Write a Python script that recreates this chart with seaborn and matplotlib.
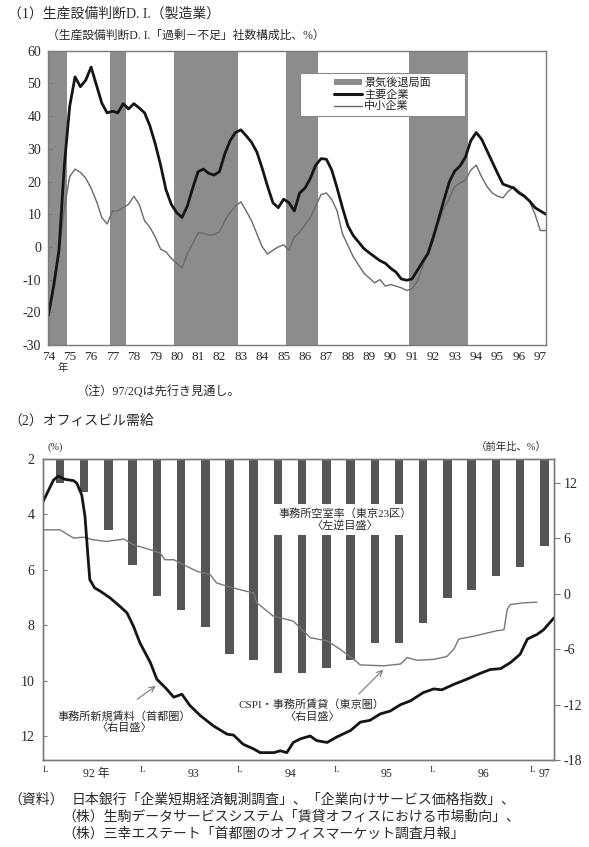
import numpy as np
import pandas as pd
import matplotlib
matplotlib.use("Agg")
import matplotlib.pyplot as plt
import seaborn as sns
from matplotlib.patches import Patch, Rectangle
from matplotlib.lines import Line2D

sns.set_style("white")
plt.rcParams['font.family'] = ['Liberation Serif', 'Noto Sans CJK JP']
plt.rcParams['axes.unicode_minus'] = False

# (1) 生産設備判断D.I. quarterly, 74/1Q - 97/2Q
period = np.arange(1974, 1997.5, 0.25)
major = [-21, -12, -1, 25, 43, 52, 49, 51, 55, 49.5, 44, 41,
         41.5, 41, 43.8, 42.2, 43.8, 42.5, 41, 37, 31.5, 25, 17.5, 13,
         10.5, 9, 12.5, 18, 23, 23.8, 22.5, 22, 23, 28.5, 32.5, 35,
         35.8, 34, 32, 29, 24, 18.5, 13.5, 12, 14.6, 13.5, 11, 16.5,
         18, 21, 25, 27, 26.8, 23.5, 18, 12, 6.5, 3.5, 1.5, -0.5,
         -1.8, -3, -4.2, -5, -6.5, -7.7, -9.8, -10.2, -9.8, -7.2, -4.5, -2,
         3, 8.7, 14.5, 20, 23.2, 24.8, 27.5, 32.5, 35, 33, 29.5, 26,
         22.5, 19.2, 18.6, 18, 16.5, 15.5, 14, 12, 11, 10]
small = [-21, -12, -2, 12, 21.5, 23.8, 22.8, 21, 18, 14, 9, 7,
         11, 11, 12, 13, 15.5, 13, 8, 6, 3, -0.7, -1.5, -3.5,
         -5, -6.5, -2, 1, 4.3, 4.2, 3.6, 3.8, 4.6, 8, 10.5, 12.5,
         13.8, 11, 8, 4, 0, -2.2, -1, 0, 0.6, -1, 3, 4.5,
         6.8, 9, 12.5, 16, 16.5, 14.5, 11, 4, 0.5, -3, -5.5, -8,
         -9.5, -11, -10, -12, -11.5, -12, -12.5, -13.3, -12.8, -10.5, -6, -1,
         4, 7.7, 12, 15, 18.5, 19.5, 20.5, 23.5, 25, 21.5, 18.5, 16.5,
         15.5, 15, 17, 18.4, 17, 15.8, 13.8, 10, 5, 5]
rec_start = [1974.0, 1976.875, 1979.875, 1985.125, 1990.875]
rec_end = [1974.875, 1977.625, 1982.875, 1986.625, 1993.625]

# (2) オフィスビル需給
vacancy = [2.85, 3.18, 4.55, 5.84, 6.94, 7.45, 8.05, 9.05, 9.26, 9.74, 9.72,
           9.56, 9.26, 8.65, 8.65, 7.93, 7.03, 6.73, 6.21, 5.91, 5.13]
# months counted from Jan 1992 = 0
rent_month = [-1.1, 0.2, 0.8, 1.6, 2.7, 3.1, 3.7, 4.1, 4.5, 4.7, 5.3, 6.0,
              7.2, 8.4, 9.3, 10.1, 10.9, 12.2, 13.0, 14.2, 15.1, 16.1, 17.1,
              18.4, 20.0, 21.7, 22.5, 23.7, 25.0, 25.8, 27.5, 28.3, 29.1,
              29.9, 30.8, 32.0, 32.8, 34.1, 35.3, 37.0, 38.2, 39.4, 40.7,
              41.9, 43.2, 44.4, 46.0, 47.3, 48.3, 49.8, 51.4, 53.1, 54.3,
              55.6, 56.8, 58.0, 58.9, 60.1, 60.9, 62.2]
rent = [9.98, 12.32, 12.75, 12.4, 12.25, 11.96, 10.7, 8.4, 3.7, 1.53, 0.64,
        0.28, -0.44, -1.34, -2.06, -3.5, -5.3, -7.45, -9.25, -10.3, -11.2,
        -10.87, -12.1, -13.2, -14.3, -15.2, -15.3, -16.3, -16.8, -17.2,
        -17.2, -17.0, -17.2, -16.1, -15.7, -15.4, -15.9, -16.1, -15.5,
        -14.8, -13.9, -13.7, -13.0, -12.7, -12.0, -11.6, -10.7, -10.3,
        -10.4, -9.8, -9.25, -8.6, -8.2, -8.1, -7.45, -6.55, -4.9, -4.4,
        -3.9, -2.6]
cspi_month = [-1.1, 1.0, 2.7, 3.9, 5.1, 6.8, 8.9, 10.1, 12.2, 13.4, 14.0,
              15.1, 16.3, 18.0, 19.6, 20.4, 21.7, 24.1, 25.0, 25.4, 27.4,
              29.9, 32.0, 34.1, 35.7, 37.4, 38.2, 41.1, 43.2, 44.0, 45.2,
              47.3, 48.9, 49.8, 50.4, 52.2, 55.1, 56.0, 56.4, 56.8, 58.4,
              60.1]
cspi = [6.93, 6.93, 6.03, 6.14, 5.85, 5.67, 5.93, 5.31, 4.77, 4.42, 3.69,
        3.69, 3.15, 2.43, 2.08, 1.18, 0.82, 0.27, 0.1, -0.98, -2.4, -2.96,
        -4.75, -5.1, -6.0, -7.1, -7.7, -7.8, -7.6, -6.9, -7.2, -7.1, -6.8,
        -6.0, -4.9, -4.6, -4.0, -3.9, -1.7, -1.16, -0.98, -0.91]
year_labels = ['92 年', '93', '94', '95', '96', '97']

shade = '#8c8c8c'
frame = '#7a7a7a'
txt = '#2a2a2a'

fig = plt.figure(figsize=(5.89, 8.47), dpi=100)

# ---------- top chart ----------
ax1 = fig.add_axes([0.082, 0.5927, 0.8445, 0.3474])
for s, e in zip(rec_start, rec_end):
    ax1.axvspan(s, e, color=shade, lw=0, zorder=0)
df1 = pd.DataFrame({'period': period, 'major': major, 'small': small})
sns.lineplot(data=df1, x='period', y='small', ax=ax1, color='#6a6a6a', linewidth=1.0)
sns.lineplot(data=df1, x='period', y='major', ax=ax1, color='#151515', linewidth=2.0)
ax1.set_xlim(1974, 1997.25)
ax1.set_ylim(-30, 60)
ax1.set_yticks(range(-30, 61, 10))
ax1.set_xticks(range(1974, 1998), labels=[f'{y % 100:02d}' for y in range(1974, 1998)])
ax1.set_xticks(period, minor=True)
ax1.tick_params(axis='x', which='major', direction='in', length=10, width=1,
                color=frame, labelsize=9.5, labelcolor=txt, pad=4)
ax1.tick_params(axis='x', which='minor', direction='in', length=3, width=0.8, color=frame)
ax1.tick_params(axis='y', direction='in', length=3, color=frame, labelsize=10,
                labelcolor=txt, pad=5, left=True)
ax1.set_xlabel('')
ax1.set_ylabel('')
for sp in ax1.spines.values():
    sp.set_color(frame)
    sp.set_linewidth(1)

# legend box
ax1.add_patch(Rectangle((0.507, 0.778), 0.331, 0.147, transform=ax1.transAxes,
                        facecolor='white', edgecolor='#888888', lw=0.8, zorder=3))
handles = [Patch(facecolor=shade, edgecolor='none'),
           Line2D([], [], color='#151515', lw=2.2),
           Line2D([], [], color='#6a6a6a', lw=1.0)]
leg = ax1.legend(handles, ['景気後退局面', '主要企業', '中小企業'], loc='center',
                 bbox_to_anchor=(0.672, 0.8515), frameon=False, fontsize=8,
                 handlelength=2.5, handletextpad=0.2, labelspacing=0.12,
                 handleheight=0.5, borderpad=0)
leg.set_zorder(4)

# ---------- bottom chart ----------
ax2 = fig.add_axes([0.073, 0.1027, 0.8676, 0.3554])
bar_pos = np.arange(len(vacancy))
sns.barplot(x=bar_pos, y=vacancy, native_scale=True, width=0.35, color='#555555',
            saturation=1, linewidth=0, ax=ax2)
ax2.set_ylim(12.87, 2)
ax2.set_xlim(-0.7, 20.4)
ax2.set_yticks([2, 4, 6, 8, 10, 12])
ax2.tick_params(axis='y', direction='in', length=3, color=frame, labelsize=10,
                labelcolor=txt, pad=6, left=True)
ax2.set_xticks([1.5, 5.5, 9.5, 13.5, 17.5, 20], labels=year_labels)
ax2.set_xticks([-0.6, 3.4, 7.4, 11.4, 15.4, 19.5], labels=['L'] * 6, minor=True)
ax2.tick_params(axis='x', which='both', length=0, labelsize=8.5, labelcolor=txt, pad=6)
ax2.tick_params(axis='x', which='minor', labelsize=6.5, pad=4)
ax2.set_xlabel('')
ax2.set_ylabel('')
for sp in ax2.spines.values():
    sp.set_color(frame)
    sp.set_linewidth(1)
ax2.text(11.78, 4.18, '事務所空室率（東京23区）\n〈左逆目盛〉', ha='center', va='center',
         fontsize=8, color=txt, linespacing=1.15, multialignment='center',
         bbox=dict(facecolor='white', edgecolor='none', pad=3), zorder=5)

ax2r = ax2.twinx()
df_rent = pd.DataFrame({'x': (np.array(rent_month) - 1) / 3, 'v': rent})
df_cspi = pd.DataFrame({'x': (np.array(cspi_month) - 1) / 3, 'v': cspi})
sns.lineplot(data=df_cspi, x='x', y='v', ax=ax2r, color='#777777', linewidth=1.0, sort=False)
sns.lineplot(data=df_rent, x='x', y='v', ax=ax2r, color='#151515', linewidth=2.0, sort=False)
ax2r.set_ylim(-18, 14.6)
ax2r.set_yticks([-18, -12, -6, 0, 6, 12])
ax2r.tick_params(axis='y', direction='out', length=4, color=frame, labelsize=10,
                 labelcolor=txt, pad=3, right=True)
ax2r.set_xlim(-0.7, 20.4)
ax2r.set_xlabel('')
ax2r.set_ylabel('')
for sp in ax2r.spines.values():
    sp.set_color(frame)
    sp.set_linewidth(1)

ax2r.annotate('', xy=(4.05, -9.8), xytext=(3.1, -11.6),
              arrowprops=dict(arrowstyle='->', color='#777777', lw=0.8))
ax2r.text(2.64, -13.9, '事務所新規賃料（首都圏）\n〈右目盛〉', ha='center', va='center',
          fontsize=8, color=txt, linespacing=1.15, multialignment='center')
ax2r.annotate('', xy=(13.43, -8.0), xytext=(12.26, -11.05),
              arrowprops=dict(arrowstyle='->', color='#777777', lw=0.8))
ax2r.text(10.4, -12.65, 'CSPI・事務所賃貸（東京圏）\n〈右目盛〉', ha='center', va='center',
          fontsize=8, color=txt, linespacing=1.15, multialignment='center')

# ---------- texts ----------
W, H = 589, 847
def ftext(x, y, s, **kw):
    fig.text(x / W, 1 - y / H, s, va='center', color=txt, **kw)

ftext(8, 14, '（1）生産設備判断D. I.（製造業）', fontsize=10)
ftext(47, 36, '（生産設備判断D. I.「過剰－不足」社数構成比、%）', fontsize=8.5)
ftext(58, 368, '年', fontsize=7.5)
ftext(77, 392, '（注）97/2Qは先行き見通し。', fontsize=8.7)
ftext(8, 421, '（2）オフィスビル需給', fontsize=10)
ftext(47, 447, '(%)', fontsize=7.5)
ftext(547, 447, '（前年比、%）', fontsize=7.5, ha='right')
ftext(8, 800, '（資料）', fontsize=10)
ftext(72, 800, '日本銀行「企業短期経済観測調査」、「企業向けサービス価格指数」、', fontsize=10)
ftext(62, 817, '（株）生駒データサービスシステム「賃貸オフィスにおける市場動向」、', fontsize=10)
ftext(62, 834, '（株）三幸エステート「首都圏のオフィスマーケット調査月報」', fontsize=10)

fig.savefig('out.png', dpi=100)
